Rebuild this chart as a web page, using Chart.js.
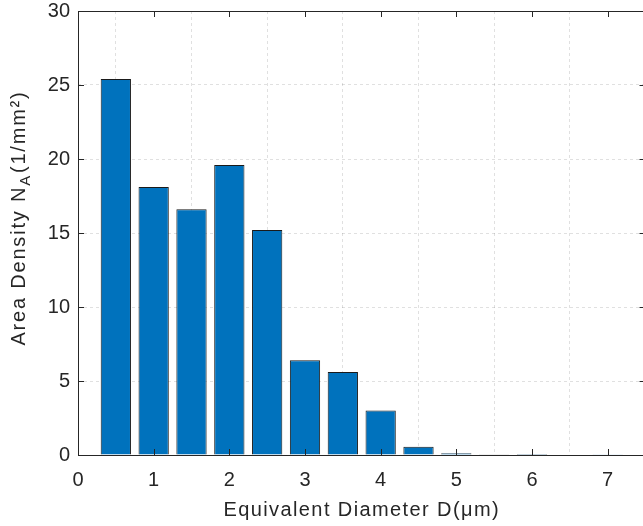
<!DOCTYPE html>
<html>
<head>
<meta charset="utf-8">
<script src="https://cdn.jsdelivr.net/npm/chart.js@4/dist/chart.umd.min.js"></script>
<style>
  html, body { margin: 0; padding: 0; background: #fff; overflow: hidden; }
  #wrap { width: 660px; height: 526px; }
</style>
</head>
<body>
<div id="wrap"><canvas id="chart" width="660" height="526"></canvas></div>
<script>
const diameters = [0.5, 1, 1.5, 2, 2.5, 3, 3.5, 4, 4.5, 5, 5.5, 6, 6.5, 7, 7.5];
const density = [25.4, 18.1, 16.6, 19.6, 15.2, 6.4, 5.6, 3.0, 0.55, 0.12, 0.02, 0.07, 0.03, 0.01, 0];
const xLabel = 'Equivalent Diameter D(\u03BCm)';
const yLabelMain = 'Area Density N';
const yLabelSub = 'A';
const yLabelEnd = '(1/mm\u00B2)';

const FONT = '"Liberation Sans", Arial, Helvetica, sans-serif';
const AXIS = '#262626';

// matlab style: box, inward ticks, axis labels
const matlabAxes = {
  id: 'matlabAxes',
  afterDraw(chart) {
    const { ctx, chartArea: a, scales } = chart;
    const tl = 6;
    ctx.save();
    ctx.strokeStyle = AXIS;
    ctx.lineWidth = 1;
    ctx.beginPath();
    scales.x.ticks.forEach(t => {
      const px = Math.round(scales.x.getPixelForValue(t.value)) + 0.5;
      ctx.moveTo(px, a.bottom); ctx.lineTo(px, a.bottom - tl);
      ctx.moveTo(px, a.top); ctx.lineTo(px, a.top + tl);
    });
    scales.y.ticks.forEach(t => {
      const py = Math.round(scales.y.getPixelForValue(t.value)) + 0.5;
      ctx.moveTo(a.left, py); ctx.lineTo(a.left + tl, py);
      ctx.moveTo(a.right, py); ctx.lineTo(a.right - tl, py);
    });
    ctx.stroke();
    ctx.strokeRect(Math.round(a.left) + 0.5, Math.round(a.top) + 0.5,
      Math.round(a.right - a.left), Math.round(a.bottom - a.top));

    ctx.fillStyle = AXIS;
    ctx.font = '20px ' + FONT;
    ctx.letterSpacing = '1.4px';
    ctx.textAlign = 'center';
    ctx.textBaseline = 'alphabetic';
    ctx.fillText(xLabel, (a.left + a.right) / 2, 516);

    // y label with subscript
    ctx.letterSpacing = '1.8px';
    ctx.translate(25, 218);
    ctx.rotate(-Math.PI / 2);
    ctx.textAlign = 'left';
    const subFont = '15px ' + FONT;
    const mainFont = '20px ' + FONT;
    ctx.font = mainFont;
    const w1 = ctx.measureText(yLabelMain).width;
    const w3 = ctx.measureText(yLabelEnd).width;
    ctx.font = subFont;
    const w2 = ctx.measureText(yLabelSub).width;
    let x0 = -(w1 + w2 + w3 + 1) / 2;
    ctx.font = mainFont;
    ctx.fillText(yLabelMain, x0, 0);
    ctx.font = subFont;
    ctx.fillText(yLabelSub, x0 + w1, 5);
    ctx.font = mainFont;
    ctx.fillText(yLabelEnd, x0 + w1 + w2 + 1, 0);
    ctx.restore();
  }
};

new Chart(document.getElementById('chart'), {
  type: 'bar',
  data: {
    datasets: [{
      data: diameters.map((d, i) => ({ x: d, y: density[i] })),
      backgroundColor: '#0072BD',
      borderColor: '#1a1a1a',
      borderWidth: 1,
      barPercentage: 0.8,
      categoryPercentage: 1
    }]
  },
  options: {
    responsive: false,
    animation: false,
    layout: { padding: { top: 11, right: 14.5, left: 0, bottom: 0 } },
    plugins: { legend: { display: false }, tooltip: { enabled: false } },
    scales: {
      x: {
        type: 'linear',
        offset: false,
        min: 0,
        max: 7.5,
        afterFit: s => { s.height = 71; s.paddingLeft = 0; s.paddingRight = 0; },
        ticks: {
          stepSize: 1,
          includeBounds: false,
          padding: 13,
          color: AXIS,
          font: { family: FONT, size: 20 },
          maxRotation: 0
        },
        grid: { color: 'rgba(38,38,38,0.14)', drawTicks: false },
        border: { display: false, dash: [3, 3] }
      },
      y: {
        min: 0,
        max: 30,
        afterFit: s => { s.width = 78; s.paddingTop = 0; s.paddingBottom = 0; },
        ticks: {
          stepSize: 5,
          padding: 8,
          color: AXIS,
          font: { family: FONT, size: 20 }
        },
        grid: { color: 'rgba(38,38,38,0.14)', drawTicks: false },
        border: { display: false, dash: [3, 3] }
      }
    }
  },
  plugins: [matlabAxes]
});
</script>
</body>
</html>
